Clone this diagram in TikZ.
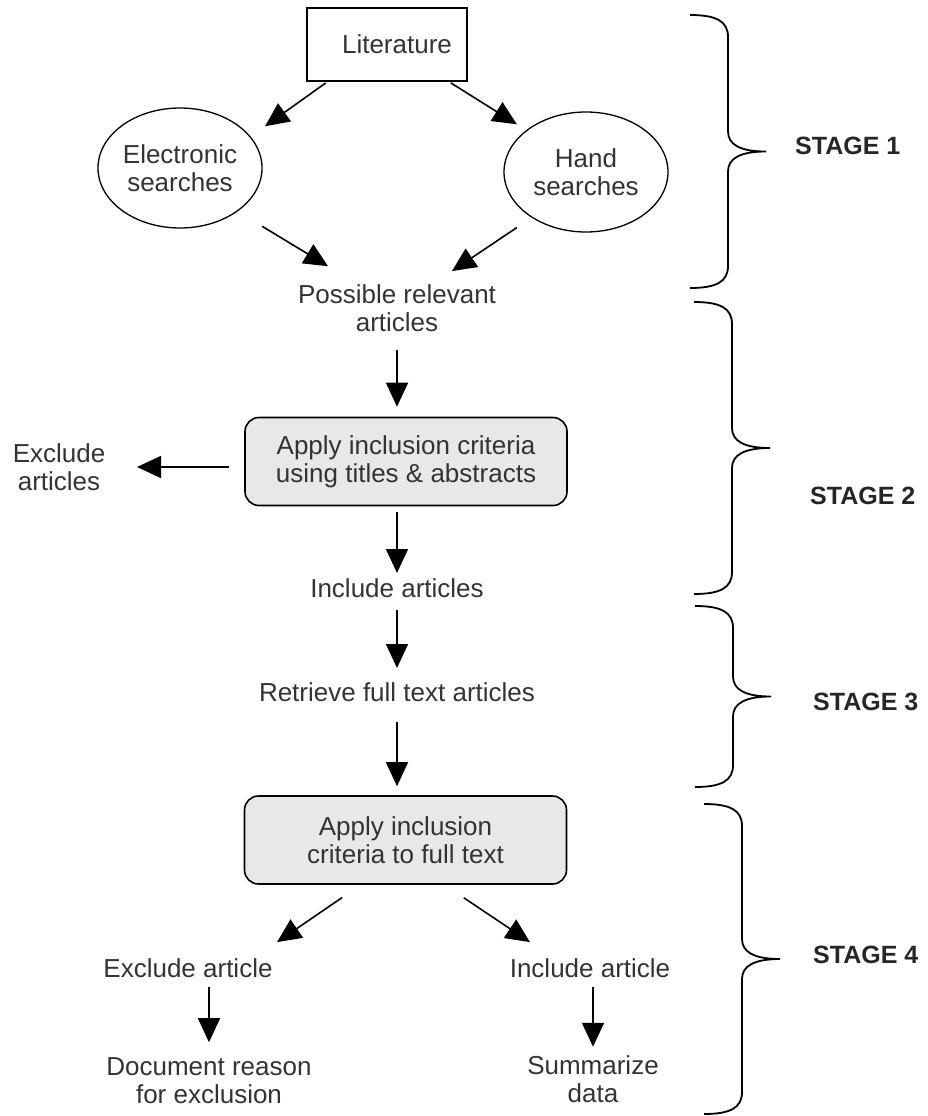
\documentclass[tikz,border=0pt]{standalone}
\usepackage{fontspec}
\setmainfont{Liberation Sans}
\usetikzlibrary{arrows.meta,shapes.geometric,calc}

\begin{document}
\begin{tikzpicture}[x=1pt, y=-1pt]
	% Styles
	\tikzstyle{txt}=[inner sep=0pt, align=center, text=black!80, font=\fontsize{26}{28}\selectfont]
	\tikzstyle{litbox}=[txt, draw=black, line width=1.6pt, minimum width=160pt, minimum height=73pt]
	\tikzstyle{srch}=[txt, ellipse, draw=black, line width=1.3pt, minimum width=164pt, minimum height=120pt]
	\tikzstyle{critbox}=[txt, draw=black, line width=1.6pt, fill=black!9, rounded corners=14pt, minimum width=322pt, minimum height=88pt]
	\tikzstyle{stagelbl}=[inner sep=0pt, anchor=west, text=black!85, font=\fontsize{25}{28}\selectfont\bfseries]
	\tikzstyle{flow}=[draw, line width=1.6pt, -{Triangle[length=24pt,width=22pt]}]
	\tikzstyle{stagebrace}=[draw, line width=1.8pt]

	\useasboundingbox (0,0) rectangle (928,1116);

	% Nodes for the searches
	\node[litbox] (lit) at (387,44.5) {\hspace*{20pt}Literature};
	\node[srch] (elec) at (180,168) {Electronic\\searches};
	\node[srch] (hand) at (586,172) {Hand\\searches};
	\node[txt] (poss) at (397,308) {Possible relevant\\articles};

	% Nodes for the screening
	\node[critbox] (crit1) at (406,461.5) {Apply inclusion criteria\\using titles \& abstracts};
	\node[txt] (exarts) at (59,467) {Exclude\\articles};
	\node[txt] (incarts) at (397,588) {Include articles};
	\node[txt] (retr) at (397,692) {Retrieve full text articles};
	\node[critbox] (crit2) at (405.5,840) {Apply inclusion\\criteria to full text};
	\node[txt] (exart) at (188,968) {Exclude article};
	\node[txt] (inart) at (590,968) {Include article};
	\node[txt] (docu) at (209,1081) {Document reason\\for exclusion};
	\node[txt] (summ) at (593,1079) {Summarize\\data};

	% Connect the nodes
	\draw[flow, shorten <=2pt, shorten >=17.6pt] (lit.212) -- (elec.24);
	\draw[flow, shorten <=2pt, shorten >=11pt] (lit.329) -- (hand.145);
	\draw[flow, shorten <=28.7pt, shorten >=80.6pt] (elec.323) -- (poss.center);
	\draw[flow, shorten <=17.7pt, shorten >=66.2pt] (hand.220) -- (poss.center);
	\draw[flow, shorten <=42pt, shorten >=10pt] (poss.center) -- (poss.center |- crit1.north);
	\draw[flow, shorten <=15pt, shorten >=78pt] (exarts.center -| crit1.west) -- (exarts.center);
	\draw[flow, shorten <=6pt, shorten >=15pt] (crit1.south -| incarts.center) -- (incarts.center);
	\draw[flow, shorten <=22pt, shorten >=24pt] (incarts.center) -- (retr.center);
	\draw[flow, shorten <=30pt, shorten >=9pt] (retr.center) -- (retr.center |- crit2.north);
	\draw[flow, shorten <=22.4pt, shorten >=28.5pt] (crit2.225) -- ($(exart.north)+(65.5,0)$);
	\draw[flow, shorten <=23.3pt, shorten >=29pt] (crit2.311) -- ($(inart.north)+(-36,0)$);
	\draw[flow, shorten <=9.5pt, shorten >=15.5pt] (exart.south -| docu.north) -- (docu.north);
	\draw[flow, shorten <=9.5pt, shorten >=8.5pt] (inart.south -| summ.north) -- (summ.north);

	% Braces for the stages
	\foreach \xv/\yt/\yb in {728/15/288, 732/302/594, 733/606/787, 742/804/1114}
		\draw[stagebrace] (\xv-38,\yt) .. controls (\xv-12,\yt) and (\xv,\yt+6) .. (\xv,\yt+22)
			-- (\xv,{(\yt+\yb)/2-20}) .. controls (\xv,{(\yt+\yb)/2-7}) and (\xv+12,{(\yt+\yb)/2}) .. (\xv+38,{(\yt+\yb)/2})
			.. controls (\xv+12,{(\yt+\yb)/2}) and (\xv,{(\yt+\yb)/2+7}) .. (\xv,{(\yt+\yb)/2+20})
			-- (\xv,\yb-22) .. controls (\xv,\yb-6) and (\xv-12,\yb) .. (\xv-38,\yb);

	% Labels
	\foreach \n/\x/\y in {1/795/146, 2/810/496, 3/813/702, 4/813/955}
		\node[stagelbl] (stage\n) at (\x,\y) {STAGE \n};
\end{tikzpicture}
\end{document}
